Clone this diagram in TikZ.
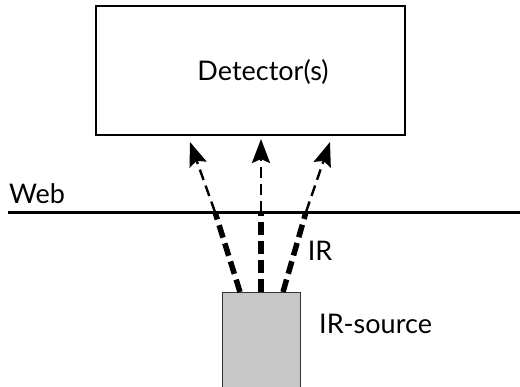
\documentclass[tikz,border=0pt]{standalone}
\usepackage{fontspec}
\setmainfont{Lato}
\usetikzlibrary{arrows.meta}
\begin{document}
\begin{tikzpicture}[x=1pt,y=-1pt,
  box/.style={draw=black,line width=2pt,minimum width=309pt,minimum height=129pt,inner sep=0pt},
  srcbox/.style={draw=black!80,fill=black!22,line width=0.8pt,minimum width=78pt,minimum height=98pt,inner sep=0pt},
  webline/.style={line width=3pt},
  lbl/.style={font=\fontsize{27}{30}\selectfont,inner sep=0pt},
  beamlow/.style={line width=5.5pt,dash pattern=on 13pt off 6pt},
  beamhigh/.style={line width=2.4pt,dash pattern=on 11pt off 6pt,
    -{Stealth[length=24pt,width=18pt,inset=4pt]}}]
  \useasboundingbox (0,0) rectangle (520,386);
  % detector and source
  \node[box] (det) at (250.5,70.5) {};
  \node[lbl] (dettext) at (263,72) {Detector(s)};
  \node[srcbox] (src) at (261,341) {};
  \node[lbl,anchor=west] (srctext) at (319,324) {IR-source};
  % web
  \coordinate (w0) at (8,212);
  \coordinate (w1) at (520,212);
  \draw[webline] (w0) -- (w1);
  \node[lbl,anchor=base west] (webtext) at (9,203) {Web};
  % beams: start on the source, cross the web, end below the detector
  \coordinate (s1) at (240,292);
  \coordinate (s2) at (261,292);
  \coordinate (s3) at (283,292);
  \coordinate (c1) at (215,212);
  \coordinate (c2) at (261,212);
  \coordinate (c3) at (306,212);
  \coordinate (t1) at (190,142);
  \coordinate (t2) at (261,139);
  \coordinate (t3) at (330,142);
  \draw[beamlow] (s1) -- (c1);
  \draw[beamlow] (s2) -- (c2);
  \draw[beamlow] (s3) -- (c3);
  \draw[beamhigh] (c1) -- (t1);
  \draw[beamhigh] (c2) -- (t2);
  \draw[beamhigh] (c3) -- (t3);
  \node[lbl] (irtext) at (320,251) {IR};
\end{tikzpicture}
\end{document}
